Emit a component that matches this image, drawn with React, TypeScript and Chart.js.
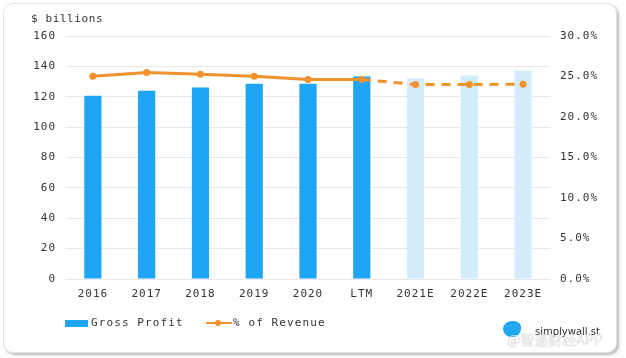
import React, { useEffect, useRef } from "react";
import { Chart, registerables } from "chart.js";

Chart.register(...registerables);

const categories = ["2016", "2017", "2018", "2019", "2020", "LTM", "2021E", "2022E", "2023E"];
const grossProfit = [120.6, 123.9, 126.1, 128.5, 128.5, 133.3, 132.0, 134.0, 137.3];
const pctOfRevenue = [25.04, 25.49, 25.28, 25.04, 24.63, 24.63, 24.01, 24.01, 24.05];
const leftTickStep = 20;
const rightTickStep = 5;

const MONO = '"DejaVu Sans Mono", monospace';
const TEXT = "#333338";
const BAR_DARK = "#1ea6f4";
const BAR_LIGHT = "#d3edfc";
const ORANGE = "#f0922e";
const lastActualIndex = categories.indexOf("LTM");

const spacingPlugin = {
  id: "letterSpacing",
  beforeInit(chart: any) {
    (chart.ctx as any).letterSpacing = "1px";
  },
  beforeLayout(chart: any) {
    (chart.ctx as any).letterSpacing = "1px";
  },
  beforeDraw(chart: any) {
    (chart.ctx as any).letterSpacing = "1px";
  },
};

export default function App() {
  const ref = useRef<HTMLCanvasElement | null>(null);

  useEffect(() => {
    if (!ref.current) return;
    const chart = new Chart(ref.current, {
      type: "bar",
      data: {
        labels: categories,
        datasets: [
          {
            type: "line",
            label: "% of Revenue",
            data: pctOfRevenue,
            yAxisID: "y1",
            borderColor: ORANGE,
            backgroundColor: ORANGE,
            borderWidth: 3,
            pointRadius: 3.5,
            pointBackgroundColor: ORANGE,
            pointBorderWidth: 0,
            tension: 0,
            order: 0,
            segment: {
              borderDash: (ctx: any) => (ctx.p0DataIndex >= lastActualIndex ? [9, 7] : undefined),
            },
          } as any,
          {
            type: "bar",
            label: "Gross Profit",
            data: grossProfit,
            yAxisID: "y",
            backgroundColor: categories.map((c) => (c.endsWith("E") ? BAR_LIGHT : BAR_DARK)),
            borderWidth: 0,
            barPercentage: 0.32,
            categoryPercentage: 1,
            order: 1,
          },
        ],
      },
      options: {
        responsive: false,
        animation: false,
        devicePixelRatio: 1,
        layout: { padding: { left: 10, right: 10, top: 36, bottom: 0 } },
        plugins: { legend: { display: false }, tooltip: { enabled: false } },
        scales: {
          x: {
            grid: { display: false, drawTicks: false },
            border: { display: false },
            ticks: { color: TEXT, font: { family: MONO, size: 11 }, padding: 9, maxRotation: 0 },
            afterFit: (s: any) => {
              s.height = 79;
            },
          },
          y: {
            position: "left",
            min: 0,
            max: 160,
            grid: { color: "#e7e7ee", lineWidth: 1, drawTicks: false },
            border: { display: false },
            ticks: { stepSize: leftTickStep, color: TEXT, font: { family: MONO, size: 11 }, padding: 10 },
            afterFit: (s: any) => {
              s.width = 56;
            },
          },
          y1: {
            position: "right",
            min: 0,
            max: 30,
            grid: { display: false, drawTicks: false },
            border: { display: false },
            ticks: {
              stepSize: rightTickStep,
              color: TEXT,
              font: { family: MONO, size: 11 },
              padding: 10,
              callback: (v: any) => Number(v).toFixed(1) + "%",
            },
            afterFit: (s: any) => {
              s.width = 66;
            },
          },
        },
      },
      plugins: [spacingPlugin],
    } as any);
    return () => chart.destroy();
  }, []);

  const legendText: React.CSSProperties = {
    position: "absolute",
    fontFamily: MONO,
    fontSize: 11,
    letterSpacing: "1.1px",
    color: TEXT,
    lineHeight: "14px",
    whiteSpace: "nowrap",
  };

  return (
    <div style={{ position: "fixed", left: 0, top: 0, width: 626, height: 358, background: "#ffffff", overflow: "hidden" }}>
      <div
        style={{
          position: "absolute",
          left: 3,
          top: 3,
          width: 612,
          height: 348,
          border: "1px solid #e4e4e8",
          borderRadius: 10,
          background: "#fff",
          boxShadow: "2px 2px 3px rgba(0,0,0,0.28)",
        }}
      />
      <canvas ref={ref} width={626} height={358} style={{ position: "absolute", left: 0, top: 0, width: 626, height: 358 }} />
      <div style={{ ...legendText, left: 31, top: 12, letterSpacing: "0.6px" }}>$ billions</div>
      <div style={{ position: "absolute", left: 65, top: 320, width: 23, height: 6.5, background: BAR_DARK }} />
      <div style={{ ...legendText, left: 91, top: 316 }}>Gross Profit</div>
      <div style={{ position: "absolute", left: 206, top: 322, width: 26, height: 2, background: ORANGE }} />
      <div style={{ position: "absolute", left: 215, top: 320, width: 6, height: 6, borderRadius: 3, background: ORANGE }} />
      <div style={{ ...legendText, left: 233, top: 316 }}>% of Revenue</div>
      <div
        style={{
          position: "absolute",
          left: 503,
          top: 321,
          width: 18,
          height: 16,
          borderRadius: "50% 40% 50% 50%",
          background: "#22a8f0",
        }}
      />
      <div
        style={{
          position: "absolute",
          left: 535,
          top: 326,
          fontFamily: '"DejaVu Sans", sans-serif',
          fontSize: 10,
          color: "#2b2b2b",
          whiteSpace: "nowrap",
        }}
      >
        simplywall.st
      </div>
      <div
        style={{
          position: "absolute",
          left: 507,
          top: 329,
          fontFamily: '"Noto Sans CJK SC", sans-serif',
          fontSize: 14,
          color: "rgba(255,255,255,0.75)",
          textShadow: "0 0 1px rgba(0,0,0,0.35)",
          whiteSpace: "nowrap",
        }}
      >
        @智通财经APP
      </div>
    </div>
  );
}
